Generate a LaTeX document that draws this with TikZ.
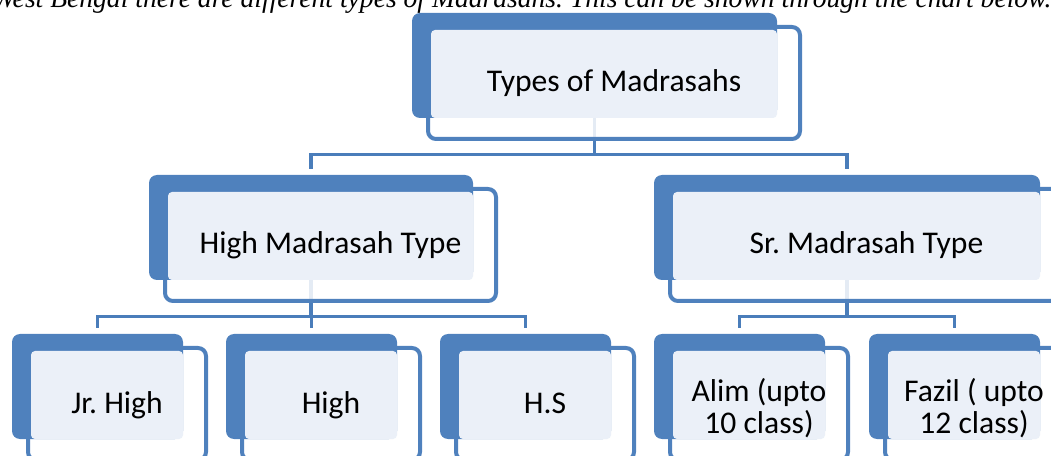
\documentclass[tikz,border=0pt]{standalone}
\usepackage{fontspec}
\setmainfont{Carlito}
\newfontfamily\notefont{Liberation Serif}
\usepackage{tikz}
\usetikzlibrary{backgrounds}
\definecolor{madblue}{HTML}{4F81BD}
\definecolor{madface}{HTML}{EBF0F8}
\definecolor{madline}{HTML}{4A7DBA}
\frenchspacing

% one chart box: [label options]{name}{x}{y}{width}{text}
\newcommand{\madbox}[6][]{%
  %Outline box
  \draw[outlinebox] (#3+16,#4+14) rectangle (#3+#5+23,#4+126);
  %Blue back box
  \fill[backbox] (#3,#4) rectangle (#3+#5,#4+105);
  %Light face
  \fill[facebox] (#3+19,#4+17) rectangle (#3+#5,#4+105);
  \node[boxlabel,#1] (#2) at (#3+#5/2+19.5,#4+79) {#6};
  \coordinate (#2-s) at (#3+#5/2,#4+105);
  \coordinate (#2-in) at (#3+#5/2,#4-6);
}

\begin{document}
\begin{tikzpicture}[x=0.75pt,y=0.75pt,yscale=-1,xscale=1,
  outlinebox/.style={draw=madblue,line width=3pt,fill=white,fill opacity=0.85,rounded corners=6pt},
  backbox/.style={fill=madblue,rounded corners=6pt},
  facebox/.style={fill=madface,rounded corners=3pt},
  boxlabel/.style={font=\fontsize{23.7}{24}\selectfont,align=center,inner sep=0pt,anchor=base},
  twoline/.style={anchor=center,yshift=4pt},
  link/.style={draw=madline,line width=2.8pt},
  notetext/.style={font=\notefont\itshape\fontsize{20.7}{22}\selectfont,inner sep=0pt}]
\useasboundingbox (0,0) rectangle (1051,456);
\clip (0,0) rectangle (1051,456);

%Text line cut by the page top
\node[notetext,anchor=base west] (note) at (-8,7.5) {West Bengal there are different types of Madrasahs. This can be shown through the chart below.};

%Top level
\madbox{types}{412}{13}{365}{Types of Madrasahs}
%Second level
\madbox{high}{149}{175}{324}{High Madrasah Type}
\madbox{sr}{654}{175}{386}{Sr. Madrasah Type}
%Third level
\madbox{jr}{12}{334}{171}{Jr. High}
\madbox{hm}{226}{334}{171}{High}
\madbox{hs}{440}{334}{171}{H.S}
\madbox[twoline]{alim}{654}{334}{171}{Alim (upto\\10 class)}
\madbox[twoline]{fazil}{869}{334}{171}{Fazil ( upto\\12 class)}

%Connectors
\begin{pgfonlayer}{background}
\draw[link] (types-s) -- ++(0,36.5) -| (high-in);
\draw[link] (types-s) -- ++(0,36.5) -| (sr-in);
\draw[link] (high-s) -- ++(0,36.5) -| (jr-in);
\draw[link] (high-s) -- ++(0,36.5) -| (hm-in);
\draw[link] (high-s) -- ++(0,36.5) -| (hs-in);
\draw[link] (sr-s) -- ++(0,36.5) -| (alim-in);
\draw[link] (sr-s) -- ++(0,36.5) -| (fazil-in);
\end{pgfonlayer}

\end{tikzpicture}
\end{document}
